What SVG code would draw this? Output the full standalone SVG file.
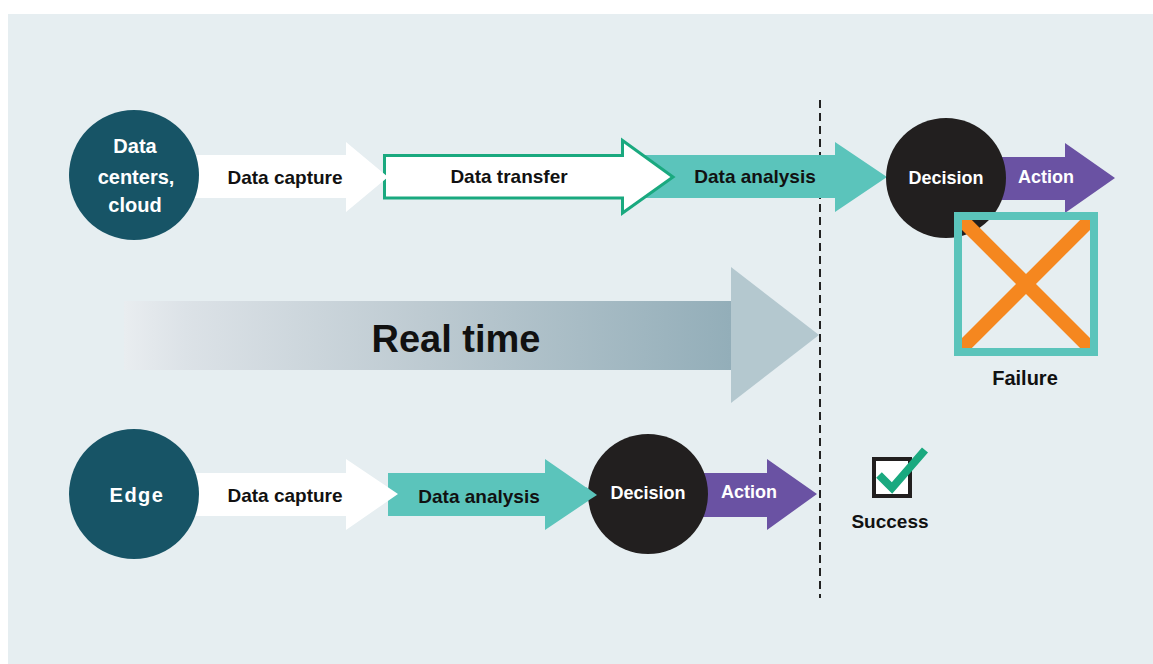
<svg xmlns="http://www.w3.org/2000/svg" width="1153" height="664" viewBox="0 0 1153 664">
<defs>
<style>
.t{font-family:"Liberation Sans",Arial,sans-serif;font-weight:bold;text-anchor:middle}
.dk{fill:#111111}
.wh{fill:#ffffff}
.hub{fill:#175466}
.dec{fill:#221f1f}
.teal{fill:#5bc4bb}
.cap{fill:#ffffff}
.act{fill:#6a52a3}
</style>
<linearGradient id="rt" x1="124" y1="0" x2="731" y2="0" gradientUnits="userSpaceOnUse">
<stop offset="0" stop-color="#e9edf0"/>
<stop offset="0.1" stop-color="#dce2e7"/>
<stop offset="0.5" stop-color="#bdcad1"/>
<stop offset="1" stop-color="#93aeb9"/>
</linearGradient>
<clipPath id="fx"><rect x="962" y="220" width="128" height="128"/></clipPath>
</defs>
<rect x="0" y="0" width="1153" height="664" fill="#ffffff"/>
<rect x="8" y="14" width="1145" height="650" fill="#e6eef1"/>

<g id="real-time">
<rect x="124" y="301" width="608" height="69" fill="url(#rt)"/>
<polygon points="731,267 819,335 731,403" fill="#b4c8cf"/>
<text class="t dk" x="456" y="352" font-size="38">Real time</text>
</g>

<line id="deadline" x1="820" y1="100" x2="820" y2="598" stroke="#222222" stroke-width="2" stroke-dasharray="8,5"/>

<g id="connectors">
<g id="top-analysis">
<polygon class="teal" points="640,155 835,155 835,142 887,177 835,212 835,198 640,198"/>
<text class="t dk" x="755" y="183" font-size="19">Data analysis</text>
</g>
<g id="top-transfer">
<polygon points="384.5,155.5 622.5,155.5 622.5,140.5 673,177 622.5,213 622.5,198 384.5,198" fill="#ffffff" stroke="#1aa97f" stroke-width="3"/>
<text class="t dk" x="509" y="183" font-size="19">Data transfer</text>
</g>
<g id="top-capture">
<polygon class="cap" points="190,155 346,155 346,142 388,177 346,212 346,198 190,198"/>
<text class="t dk" x="285" y="184" font-size="19">Data capture</text>
</g>
<g id="top-action">
<polygon class="act" points="995,157 1065,157 1065,143 1115,178 1065,213 1065,200 995,200"/>
<text class="t wh" x="1046" y="183" font-size="18">Action</text>
</g>
<g id="bottom-analysis">
<polygon class="teal" points="388,473 545,473 545,459 597,495 545,530 545,516 388,516"/>
<text class="t dk" x="479" y="503" font-size="19">Data analysis</text>
</g>
<g id="bottom-capture">
<polygon class="cap" points="190,473 346,473 346,459 398,494 346,530 346,516 190,516"/>
<text class="t dk" x="285" y="502" font-size="19">Data capture</text>
</g>
<g id="bottom-action">
<polygon class="act" points="700,473 767,473 767,459 817,494 767,530 767,517 700,517"/>
<text class="t wh" x="749" y="498" font-size="18">Action</text>
</g>
</g>

<g id="node-datacenters">
<circle class="hub" cx="134" cy="175" r="65"/>
<text class="t wh" x="135" y="153" font-size="20">Data</text>
<text class="t wh" x="136" y="184" font-size="20">centers,</text>
<text class="t wh" x="135" y="212" font-size="20">cloud</text>
</g>

<g id="node-top-decision">
<circle class="dec" cx="946" cy="178" r="60"/>
<text class="t wh" x="946" y="184" font-size="18">Decision</text>
</g>

<g id="node-failure">
<rect x="958" y="216" width="136" height="136" fill="none" stroke="#5bc4bb" stroke-width="8"/>
<g clip-path="url(#fx)" stroke="#f5871f" stroke-width="14">
<line x1="955" y1="213" x2="1097" y2="355"/>
<line x1="1097" y1="213" x2="955" y2="355"/>
</g>
<text class="t dk" x="1025" y="385" font-size="20">Failure</text>
</g>

<g id="node-edge">
<circle class="hub" cx="134" cy="494" r="65"/>
<text class="t wh" x="137" y="502" font-size="20" letter-spacing="1.5">Edge</text>
</g>

<g id="node-bottom-decision">
<circle class="dec" cx="648" cy="494" r="60"/>
<text class="t wh" x="648" y="499" font-size="18">Decision</text>
</g>
<polygon id="bottom-analysis-tip" class="teal" points="586,487 597,495 586,502"/>

<g id="node-success">
<rect x="874" y="459" width="36" height="37" fill="#ffffff" stroke="#221f1f" stroke-width="4"/>
<polyline points="879,475 892,488 925,450" fill="none" stroke="#1aa97f" stroke-width="8"/>
<text class="t dk" x="890" y="528" font-size="19">Success</text>
</g>
</svg>
